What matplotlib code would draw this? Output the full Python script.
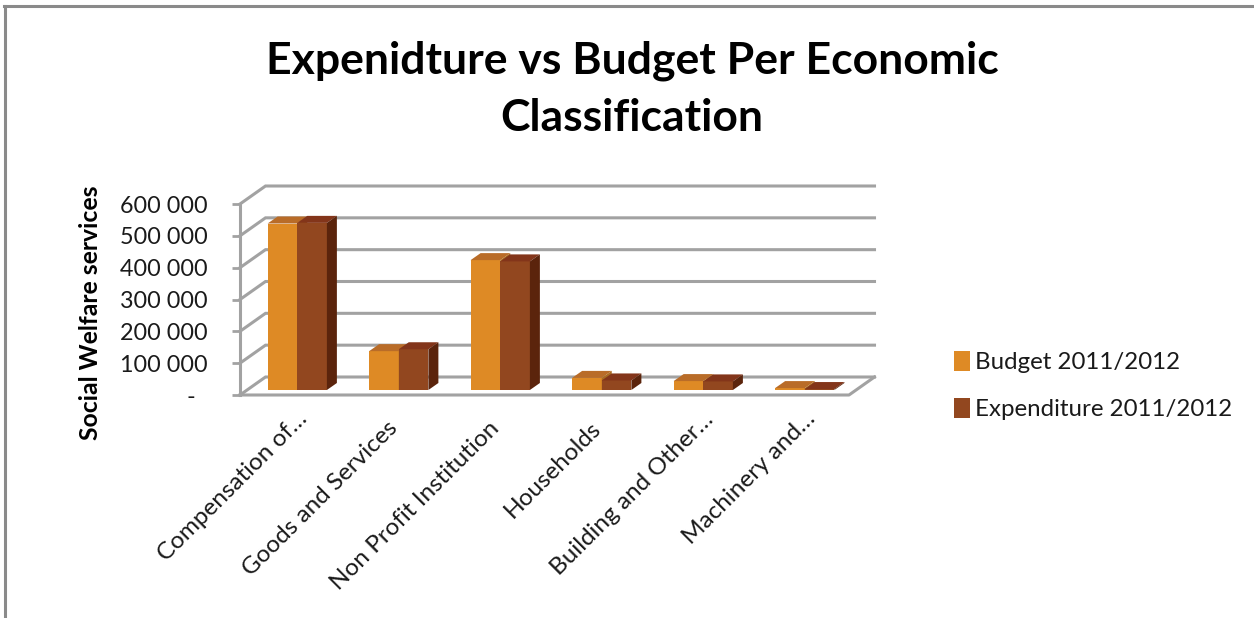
import matplotlib
matplotlib.use("Agg")
import matplotlib.pyplot as plt
from matplotlib.lines import Line2D
from matplotlib.patches import Polygon, Patch
from matplotlib.transforms import ScaledTranslation

plt.rcParams['font.family'] = ['Lato', 'DejaVu Sans']

categories = ["Compensation of\u2026", "Goods and Services", "Non Profit Institution",
              "Households", "Building and Other\u2026", "Machinery and\u2026"]
budget = [523000, 122000, 408000, 38000, 28000, 6000]
expenditure = [525000, 128000, 404000, 30000, 27000, 3000]
series_names = ["Budget 2011/2012", "Expenditure 2011/2012"]
y_ticks = [0, 100000, 200000, 300000, 400000, 500000, 600000]
y_tick_labels = ["-", "100 000", "200 000", "300 000", "400 000", "500 000", "600 000"]

W, H = 1254, 618
fig = plt.figure(figsize=(W / 100, H / 100), dpi=100, facecolor="white")

# Outer chart frame (top and left edges)
frame = "#8a8a8a"
fig.add_artist(Line2D([5 / W, 5 / W], [0, 1 - 6 / H], color=frame, lw=2.2))
fig.add_artist(Line2D([4 / W, 1], [1 - 6 / H, 1 - 6 / H], color=frame, lw=2.2))

# The axes rectangle is the front plane of the pseudo-3D box
ax = fig.add_axes([240 / W, 1 - 395 / H, 609 / W, 191 / H])
ax.set_xlim(0, 6)
ax.set_ylim(0, 600000)
ax.patch.set_visible(False)
for s in ax.spines.values():
    s.set_visible(False)

# Conversions from pixels to data units for the oblique depth direction
ux = 6 / 609
uy = 600000 / 191
box_dx, box_dy = 25.5 * ux, 18 * uy
bar_off_x, bar_off_y = 6.5 * ux, 5 * uy
bar_dx, bar_dy = 10 * ux, 7 * uy
bar_w = 0.292

grid = "#a2a2a2"
glw = 2.2
for t in y_ticks:
    ax.plot([0, box_dx, 6 + box_dx], [t, t + box_dy, t + box_dy], color=grid, lw=glw,
            clip_on=False, zorder=1, solid_joinstyle="miter")
ax.plot([0, 6, 6 + box_dx], [0, 0, box_dy], color=grid, lw=glw, clip_on=False, zorder=1)
ax.plot([0, 0], [0, 600000], color=grid, lw=glw, clip_on=False, zorder=1)


def draw_series(values, side, front, top, dark):
    for i, v in enumerate(values):
        left = i + 0.5 + bar_off_x + (side - 1) * bar_w
        base = bar_off_y
        ax.bar(left, v, bar_w, bottom=base, align="edge", color=front, lw=0, zorder=3 + side, clip_on=False)
        right = left + bar_w
        ceil = base + v
        ax.add_patch(Polygon([(left, ceil), (right, ceil), (right + bar_dx, ceil + bar_dy),
                              (left + bar_dx, ceil + bar_dy)], closed=True, fc=top, lw=0,
                             zorder=3 + side, clip_on=False))
        ax.add_patch(Polygon([(right, base), (right + bar_dx, base + bar_dy),
                              (right + bar_dx, ceil + bar_dy), (right, ceil)], closed=True,
                             fc=dark, lw=0, zorder=3 + side, clip_on=False))


draw_series(budget, 0, "#de8a25", "#b96c28", "#a96a20")
draw_series(expenditure, 1, "#92471f", "#83351a", "#5b240c")

ax.set_yticks(y_ticks, y_tick_labels, fontsize=16.8, color="#1a1a1a")
ax.tick_params(axis="y", length=5.5, width=2, color=grid, pad=18)
ax.set_xticks([i + 0.5 for i in range(6)])
ax.set_xticklabels(categories, rotation=45, ha="right", va="top", rotation_mode="anchor",
                   fontsize=17.5, color="#1a1a1a")
ax.tick_params(axis="x", length=0, pad=16)

# Nudge category labels left; truncated ones sit a little further along the slant
for lab in ax.get_xticklabels():
    truncated = lab.get_text().endswith("\u2026")
    dx, dy = (6, 9) if truncated else (-5, 0)
    lab.set_transform(lab.get_transform() + ScaledTranslation(dx / 100, dy / 100, fig.dpi_scale_trans))
zero_lab = ax.get_yticklabels()[0]
zero_lab.set_transform(zero_lab.get_transform() + ScaledTranslation(-12 / 100, 0, fig.dpi_scale_trans))

fig.text(632 / W, 1 - 89 / H, "Expenidture vs Budget Per Economic\nClassification",
         ha="center", va="center", fontsize=32, fontweight="bold", color="black", linespacing=1.52)
fig.text(90 / W, 1 - 313 / H, "Social Welfare services", rotation=90, ha="center", va="center",
         fontsize=17.8, fontweight="bold", color="black")

handles = [Patch(fc="#de8a25"), Patch(fc="#92471f")]
fig.legend(handles, series_names, loc="center left", bbox_to_anchor=(954 / W, 1 - 385.5 / H),
           frameon=False, fontsize=17.3, handlelength=0.66, handleheight=0.95, handletextpad=0.2,
           labelspacing=1.02, borderpad=0, borderaxespad=0, labelcolor="#1a1a1a")

fig.savefig("out.png", dpi=100)
